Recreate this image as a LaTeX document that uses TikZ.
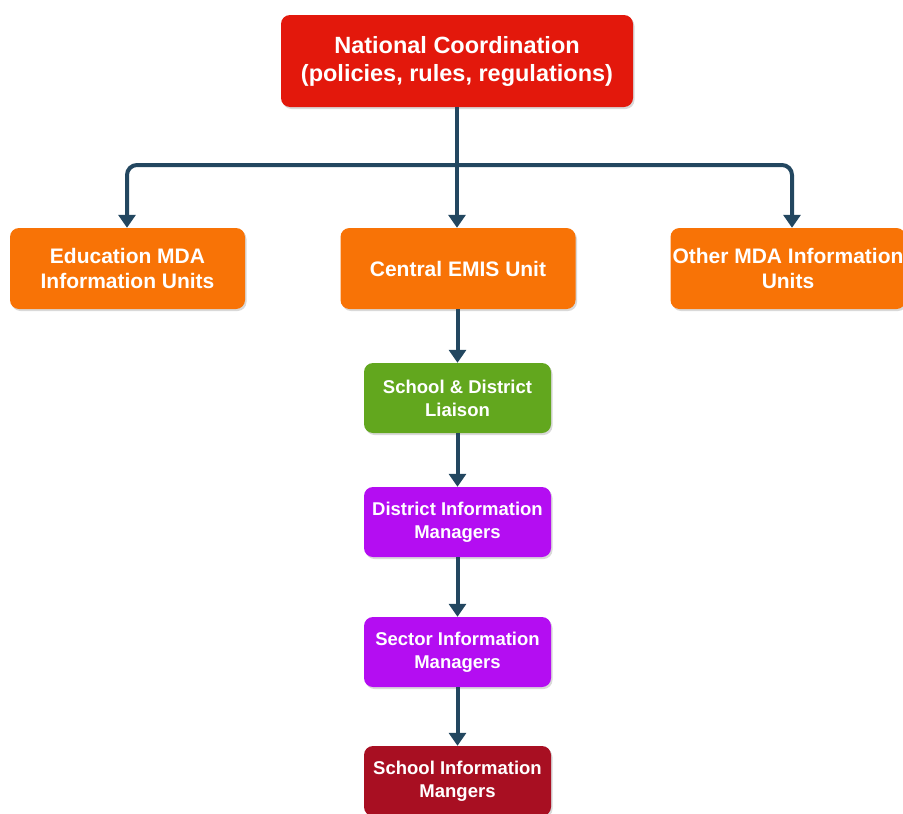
\documentclass[tikz,border=0pt]{standalone}
\usepackage{fontspec}
\setmainfont{Liberation Sans}
\usetikzlibrary{arrows.meta,shadows}
\definecolor{natred}{HTML}{E3180C}
\definecolor{unitorange}{HTML}{F87306}
\definecolor{liaisongreen}{HTML}{62A71E}
\definecolor{mgrpurple}{HTML}{B40DF2}
\definecolor{schoolred}{HTML}{A80F22}
\definecolor{linknavy}{HTML}{234760}
\tikzset{
  x=1pt, y=-1pt,
  box/.style={rounded corners=9pt, text=white, font=\bfseries, align=center,
    inner sep=0pt, drop shadow={shadow xshift=1.5pt, shadow yshift=-2pt, opacity=0.3}},
  bigbox/.style={box, minimum width=352pt, minimum height=92pt, fill=natred, font=\bfseries\fontsize{23.5}{28}\selectfont},
  unitbox/.style={box, minimum width=235pt, minimum height=81pt, fill=unitorange, font=\bfseries\fontsize{21}{25}\selectfont},
  smallbox/.style={box, minimum width=187pt, minimum height=70pt, font=\bfseries\fontsize{18.5}{23}\selectfont},
  link/.style={draw=linknavy, line width=4pt, -{Triangle[length=13pt,width=17pt]}},
}
\begin{document}
\begin{tikzpicture}
\useasboundingbox (0,0) rectangle (903,814);
\clip (0,0) rectangle (903,814);

\node[bigbox] (nat) at (457,61) {National Coordination\\(policies, rules, regulations)};
\node[unitbox] (edu) at (127.5,268.5) {Education MDA\\Information Units};
\node[unitbox] (emis) at (458,268.5) {Central EMIS Unit};
\node[unitbox] (other) at (788,268.5) {Other MDA Information\\Units};
\node[smallbox, fill=liaisongreen] (liaison) at (457.5,398) {School \& District\\Liaison};
\node[smallbox, fill=mgrpurple] (district) at (457.5,522) {District Information\\Managers};
\node[smallbox, fill=mgrpurple] (sector) at (457.5,652) {Sector Information\\Managers};
\node[smallbox, fill=schoolred] (school) at (457.5,781) {School Information\\Mangers};

\coordinate (split) at (457,165);
\draw[link] (nat.south) -- (emis.north -| nat.south);
\draw[link, rounded corners=10pt] (split) -| ([xshift=-0.5pt]edu.north);
\draw[link, rounded corners=10pt] (split) -| ([xshift=4pt]other.north);
\draw[link] (emis.south -| liaison.north) -- (liaison.north);
\draw[link] (liaison.south) -- (district.north);
\draw[link] (district.south) -- (sector.north);
\draw[link] (sector.south) -- (school.north);
\end{tikzpicture}
\end{document}
